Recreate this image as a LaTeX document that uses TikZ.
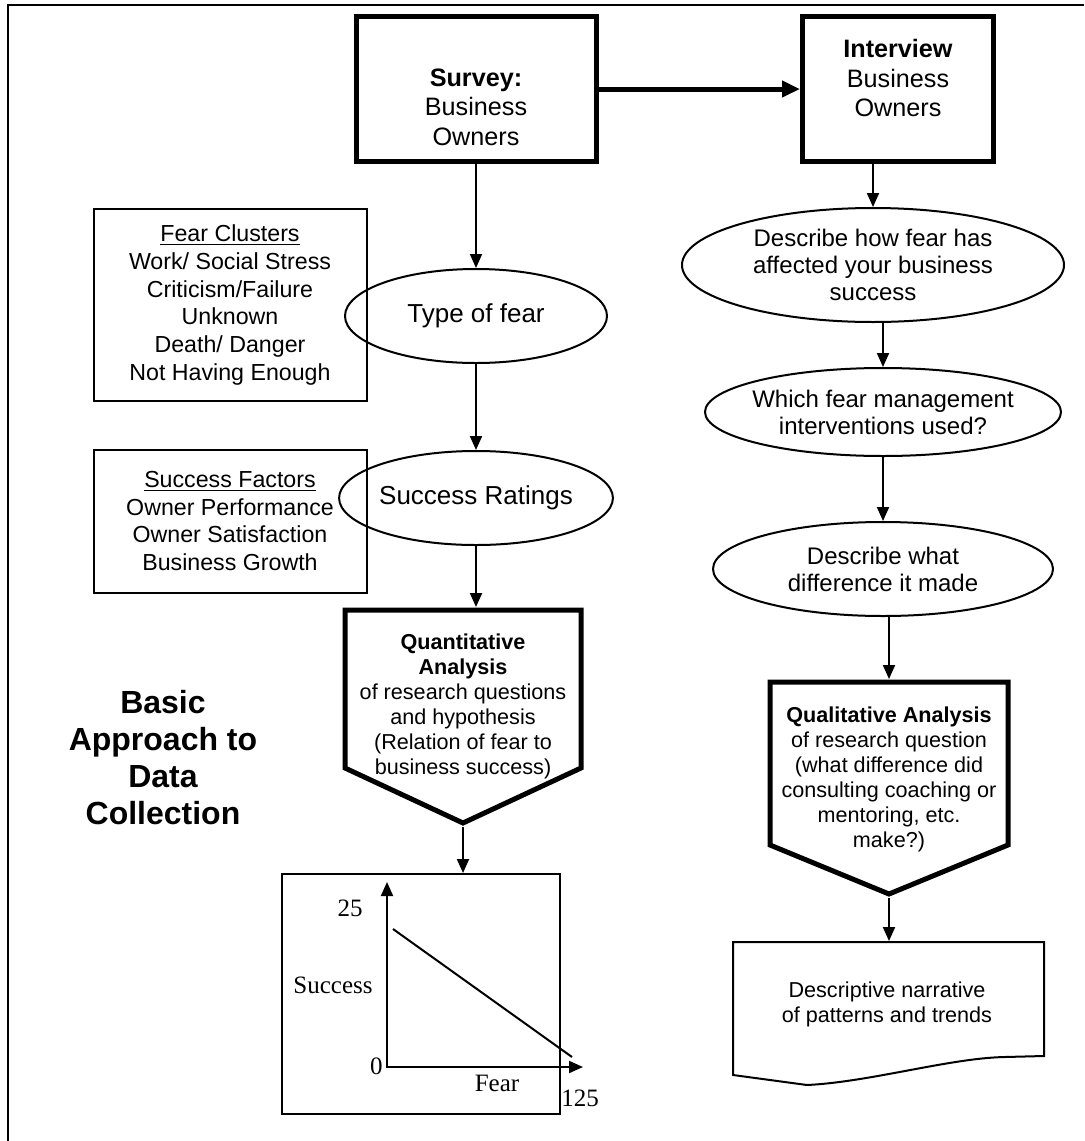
\documentclass[tikz,border=0pt]{standalone}
\usepackage{fontspec}
\setmainfont{Liberation Sans}
\newfontfamily\plotfont{Liberation Serif}
\usetikzlibrary{arrows.meta, positioning, shapes.geometric}

\begin{document}
\begin{tikzpicture}[x=0.5pt,y=-0.5pt,
  arr/.style={line width=1pt,-{Triangle[length=7pt,width=6pt]}},
  bigarr/.style={line width=2.5pt,-{Triangle[length=9pt,width=8pt]}},
  heavy/.style={draw,line width=2.5pt},
  headtext/.style={align=center,font=\fontsize{12.6pt}{14.8pt}\selectfont},
  listbox/.style={draw,line width=1pt,align=center,font=\fontsize{11.6pt}{13.9pt}\selectfont},
  oval/.style={draw,ellipse,line width=1pt,inner sep=0pt,align=center,font=\fontsize{12pt}{13.5pt}\selectfont},
  bigoval/.style={oval,font=\fontsize{13pt}{15pt}\selectfont,minimum width=131pt,minimum height=47pt},
  anatext/.style={align=center,font=\fontsize{10.8pt}{12.5pt}\selectfont},
  plotlbl/.style={font=\plotfont\fontsize{12.5pt}{14pt}\selectfont,inner sep=1pt}]
\useasboundingbox (0,0) rectangle (1084,1141);
\draw[line width=1pt] (8,1141) -- (8,5) -- (1084,5);

% top boxes
\node[heavy,minimum width=120pt,minimum height=72.5pt] (survey) at (476,89) {};
\node[headtext] (surveytxt) at (476,107) {\textbf{Survey:}\\Business\\Owners};
\node[heavy,minimum width=95.5pt,minimum height=72.5pt] (interview) at (898,89) {};
\node[headtext] (interviewtxt) at (898,78) {\textbf{Interview}\\Business\\Owners};
\draw[bigarr] (survey.east) -- (interview.west);

% left column
\node[listbox,minimum width=136.5pt,minimum height=96pt] (clusters) at (230,305)
  {\underline{Fear Clusters}\\Work/ Social Stress\\Criticism/Failure\\Unknown\\Death/ Danger\\Not Having Enough};
\node[listbox,minimum width=136.5pt,minimum height=71.5pt] (factors) at (230,521)
  {\underline{Success Factors}\\Owner Performance\\Owner Satisfaction\\Business Growth};
\node[bigoval] (fear) at (476,316) {Type of fear};
\node[bigoval] (ratings) at (476,498) {Success Ratings};

\draw[heavy] (345,610) -- (581,610) -- (581,768) -- (463,823) -- (345,768) -- cycle;
\coordinate (quanttop) at (476,607);
\coordinate (quanttip) at (463,827);
\node[anatext] (quant) at (463,706)
  {\textbf{Quantitative}\\\textbf{Analysis}\\of research questions\\and hypothesis\\(Relation of fear to\\business success)};

\node[align=center,font=\fontsize{16pt}{18.5pt}\selectfont\bfseries] (title) at (163,758)
  {Basic\\Approach to\\Data\\Collection};

% plot
\node[draw,line width=1pt,minimum width=139pt,minimum height=120pt] (plot) at (421,994) {};
\coordinate (origin) at (387,1067);
\coordinate (ytop) at (387,882);
\coordinate (xend) at (583,1067);
\draw[line width=1pt,{Triangle[length=7pt,width=6pt]}-{Triangle[length=7pt,width=6pt]}] (ytop) -- (origin) -- (xend);
\draw[line width=1pt] (393,929) -- (572,1057);
\node[plotlbl] (ymax) at (350,908) {25};
\node[plotlbl] (ylbl) at (333,985) {Success};
\node[plotlbl,anchor=east] (yzero) at (385,1066) {0};
\node[plotlbl] (xlbl) at (497,1083) {Fear};
\node[plotlbl] (xmax) at (580,1098) {125};

% right column
\node[oval,minimum width=191pt,minimum height=57pt] (e1) at (873,265)
  {Describe how fear has\\affected your business\\success};
\node[oval,inner xsep=-4pt,minimum width=178pt,minimum height=44pt] (e2) at (883,412)
  {Which fear management\\interventions used?};
\node[oval,minimum width=170pt,minimum height=47pt] (e3) at (883,569)
  {Describe what\\difference it made};

\draw[heavy] (770,682) -- (1008,682) -- (1008,845) -- (889,894) -- (770,845) -- cycle;
\coordinate (qualtop) at (889,679);
\coordinate (qualtip) at (889,898);
\node[anatext] (qual) at (889,779)
  {\textbf{Qualitative Analysis}\\of research question\\(what difference did\\consulting coaching or\\mentoring, etc.\\make?)};

\draw[line width=1pt] (733,942) -- (1044,942) -- (1044,1056) -- (1005,1057)
  .. controls (950,1058) and (870,1082) .. (807,1085) -- (733,1075) -- cycle;
\coordinate (doctop) at (889,941);
\node[anatext] (narrative) at (887,1004) {Descriptive narrative\\of patterns and trends};

% connectors
\draw[arr] (survey.south) -- (fear.north);
\draw[arr] (fear.south) -- (ratings.north);
\draw[arr] (ratings.south) -- (quanttop);
\draw[arr] (quanttip) -- (quanttip |- plot.north);
\draw[arr] (interview.south -| e1.north) -- (e1.north);
\draw[arr] (e1.south -| e2.north) -- (e2.north);
\draw[arr] (e2.south) -- (e3.north);
\draw[arr] (e3.south -| qualtop) -- (qualtop);
\draw[arr] (qualtip) -- (doctop);
\end{tikzpicture}
\end{document}
